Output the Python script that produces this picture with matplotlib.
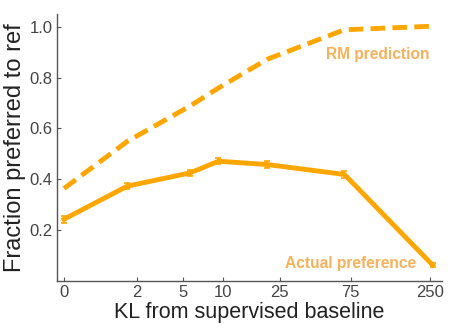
""" KL vs fraction preferred to reference """

import matplotlib
matplotlib.use("Agg")
import matplotlib.pyplot as plt
import numpy as np

# Data
kl = [0, 1.6, 5.7, 9.3, 20.5, 68, 260]
rm_prediction = [0.364, 0.549, 0.688, 0.759, 0.872, 0.988, 1.002]
actual_pref = [0.243, 0.373, 0.425, 0.471, 0.458, 0.419, 0.063]
actual_err = [0.014, 0.012, 0.012, 0.012, 0.012, 0.012, 0.006]

xtick_vals = [0, 2, 5, 10, 25, 75, 250]
ytick_vals = [0.2, 0.4, 0.6, 0.8, 1.0]

orange = "#FFA600"
label_orange = "#F6B15A"
grey = "#555555"

plt.rcParams["font.family"] = ["Liberation Sans", "DejaVu Sans"]

fig = plt.figure(figsize=(4.62, 3.34), dpi=100)
ax = fig.add_axes([57 / 462, 1 - 281 / 334, (442 - 57) / 462, (281 - 14) / 334])

ax.set_xscale("function", functions=(np.log1p, np.expm1))

ax.plot(kl, rm_prediction, "--", color=orange, lw=3.5, dashes=(3, 1.5))
ax.errorbar(kl, actual_pref, yerr=actual_err, color=orange, lw=3.5,
            elinewidth=1.2, capsize=2.5, capthick=1.2)

ax.text(0.834, 0.85, "RM prediction", transform=ax.transAxes,
        color=label_orange, fontsize=11.2, fontweight="bold",
        ha="center", va="center")
ax.text(0.763, 0.067, "Actual preference", transform=ax.transAxes,
        color=label_orange, fontsize=11.2, fontweight="bold",
        ha="center", va="center")
ax.set_xlim(-0.1, 300)
ax.set_ylim(0.0, 1.05)

ax.set_xticks(xtick_vals)
ax.set_xticklabels([str(v) for v in xtick_vals])
ax.set_yticks(ytick_vals)
ax.set_yticklabels([f"{v:.1f}" for v in ytick_vals])
ax.minorticks_off()
ax.tick_params(direction="in", length=3, colors=grey, labelsize=12,
               labelcolor="#444444", pad=3)

for side in ["top", "right"]:
    ax.spines[side].set_visible(False)
for side in ["left", "bottom"]:
    ax.spines[side].set_color(grey)
    ax.spines[side].set_linewidth(1.0)

ax.set_xlabel("KL from supervised baseline", fontsize=15.5, color="#222222",
              labelpad=1)
ax.set_ylabel("Fraction preferred to ref", fontsize=17, color="#222222",
              labelpad=3)

plt.savefig("out.png", dpi=100)
